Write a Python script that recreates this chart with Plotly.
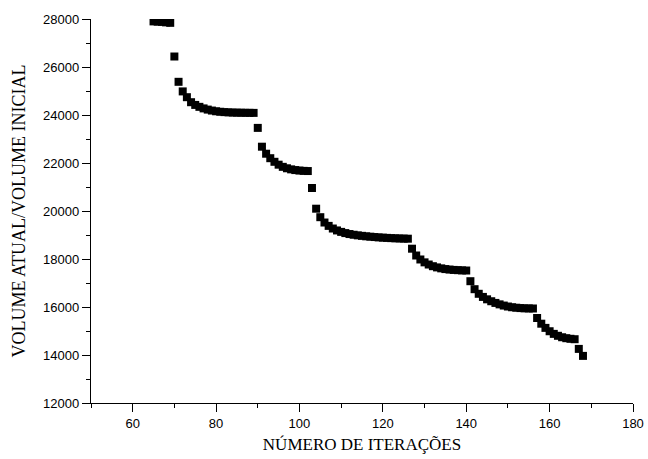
import plotly.graph_objects as go

iterations = list(range(65, 169))

seg0 = [27900, 27890, 27880, 27860, 27840]  # 65-69
seg1 = [26437, 25383, 24983, 24742, 24533, 24420, 24340, 24275, 24225, 24185,
        24155, 24135, 24120, 24110, 24102, 24098, 24095, 24092, 24090, 24088]  # 70-89
seg2 = [23463, 22679, 22387, 22200, 22050, 21930, 21840, 21780, 21735, 21705,
        21685, 21672, 21665]  # 90-102
seg3 = [20958, 20096, 19742, 19520, 19380, 19270, 19190, 19130, 19080, 19040,
        19010, 18985, 18965, 18945, 18930, 18915, 18900, 18890, 18880, 18870,
        18862, 18856, 18850, 18846]  # 103-126
seg4 = [18429, 18146, 17980, 17860, 17770, 17700, 17650, 17610, 17580, 17560,
        17545, 17535, 17525, 17520]  # 127-140
seg5 = [17075, 16742, 16550, 16420, 16320, 16240, 16170, 16110, 16060, 16020,
        15990, 15970, 15955, 15945, 15940, 15938]  # 141-156
seg6 = [15542, 15304, 15130, 14990, 14880, 14800, 14740, 14700, 14675, 14658]  # 157-166
seg7 = [14254, 13963]  # 167-168

volume = seg0 + seg1 + seg2 + seg3 + seg4 + seg5 + seg6 + seg7

x_ticks = [60, 80, 100, 120, 140, 160, 180]
y_ticks = [12000, 14000, 16000, 18000, 20000, 22000, 24000, 26000, 28000]

fig = go.Figure()
fig.add_trace(go.Scatter(
    x=iterations, y=volume, mode="markers",
    marker=dict(symbol="square", size=8, color="black", line=dict(width=0)),
    showlegend=False,
))

tickfont = dict(family="Arial, Liberation Sans, sans-serif", size=13, color="black")
xtitlefont = dict(family="Times New Roman, Liberation Serif, serif", size=17, color="black")
ytitlefont = dict(family="Times New Roman, Liberation Serif, serif", size=18, color="black")

fig.update_layout(
    width=648, height=459,
    margin=dict(l=91, r=15, t=19, b=56, pad=0),
    paper_bgcolor="white", plot_bgcolor="white",
    xaxis=dict(
        range=[50, 180], tickvals=x_ticks, showgrid=False, zeroline=False, automargin=False,
        showline=True, linecolor="black", linewidth=1.3,
        ticks="outside", ticklen=8, tickwidth=1.3, tickcolor="black",
        minor=dict(dtick=10, tick0=50, ticks="outside", ticklen=4, tickwidth=1.3, tickcolor="black", showgrid=False),
        tickfont=tickfont,
        title=dict(text="NÚMERO DE ITERAÇÕES", font=xtitlefont, standoff=8),
    ),
    yaxis=dict(
        range=[12000, 28000], tickvals=y_ticks, tickformat="d", showgrid=False, zeroline=False, automargin=False,
        showline=True, linecolor="black", linewidth=1.3,
        ticks="outside", ticklen=8, tickwidth=1.3, tickcolor="black",
        minor=dict(dtick=1000, tick0=12000, ticks="outside", ticklen=4, tickwidth=1.3, tickcolor="black", showgrid=False),
        tickfont=tickfont,
        title=dict(text="VOLUME ATUAL/VOLUME INICIAL", font=ytitlefont, standoff=12),
    ),
)

fig.write_html("out.html", config={"displayModeBar": False},
               post_script="document.body.style.margin='0';")
